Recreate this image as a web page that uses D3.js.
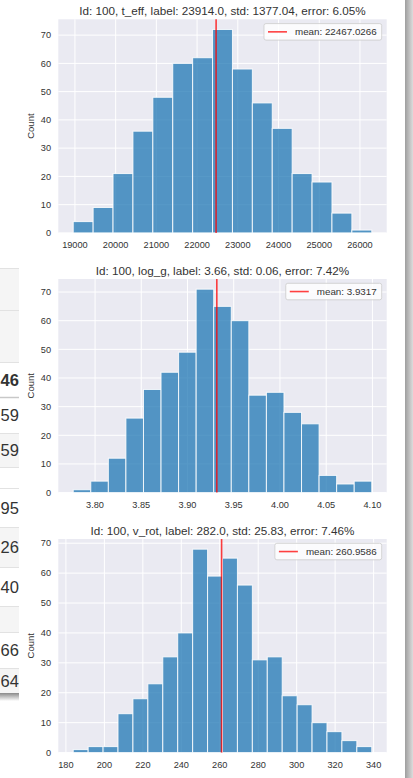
<!DOCTYPE html>
<html>
<head>
<meta charset="utf-8">
<script src="https://cdn.jsdelivr.net/npm/d3@7"></script>
<style>
body { margin: 0; background: #fff; }
text { font-family: "Liberation Sans", Arial, sans-serif; }
</style>
</head>
<body>
<script>
var W = 413, H = 778

// bar counts
var tEffCounts = [4, 9, 21, 36, 48, 60, 62, 72, 58, 46, 37, 21, 18, 7, 1]
var logGCounts = [1, 4, 12, 26, 36, 42, 49, 71, 65, 60, 34, 35, 28, 24, 6, 3, 4]
var vRotCounts = [1, 2, 2, 13, 18, 23, 32, 40, 68, 59, 65, 56, 31, 32, 19, 16, 10, 7, 4, 2]

// first bin start / last bin end
var tEffRange = [18958, 26290]
var logGRange = [3.7764, 4.0993]
var vRotRange = [183.8, 339.05]

var means = [22467.0266, 3.9317, 260.9586]
var meanLabels = ["mean: 22467.0266", "mean: 3.9317", "mean: 260.9586"]
var titles = [
  "Id: 100, t_eff, label: 23914.0, std: 1377.04, error: 6.05%",
  "Id: 100, log_g, label: 3.66, std: 0.06, error: 7.42%",
  "Id: 100, v_rot, label: 282.0, std: 25.83, error: 7.46%"
]

var tEffTicks = [19000, 20000, 21000, 22000, 23000, 24000, 25000, 26000]
var logGTicks = [3.80, 3.85, 3.90, 3.95, 4.00, 4.05, 4.10]
var vRotTicks = [180, 200, 220, 240, 260, 280, 300, 320, 340]
var countTicks = [0, 10, 20, 30, 40, 50, 60, 70]

// bits of the table sitting behind the plot window
var tableRows = [
  {y0: 268, y1: 310, fill: "#f5f5f5", text: ""},
  {y0: 310, y1: 362, fill: "#f5f5f5", text: ""},
  {y0: 362, y1: 397, fill: "#fff", text: "4605", bold: true},
  {y0: 397, y1: 433, fill: "#fff", text: "5959"},
  {y0: 433, y1: 467, fill: "#f5f5f5", text: "5959"},
  {y0: 467, y1: 488, fill: "#fff", text: ""},
  {y0: 488, y1: 527, fill: "#fff", text: "9571"},
  {y0: 527, y1: 567, fill: "#f5f5f5", text: "2600"},
  {y0: 567, y1: 606, fill: "#fff", text: "4000"},
  {y0: 606, y1: 632, fill: "#f5f5f5", text: ""},
  {y0: 632, y1: 668, fill: "#fff", text: "6600"},
  {y0: 668, y1: 693, fill: "#f5f5f5", text: "6400"}
]

var charts = [
  {counts: tEffCounts, range: tEffRange, ticks: tEffTicks, fmt: d3.format("d"), top: 19.3},
  {counts: logGCounts, range: logGRange, ticks: logGTicks, fmt: d3.format(".2f"), top: 279},
  {counts: vRotCounts, range: vRotRange, ticks: vRotTicks, fmt: d3.format("d"), top: 539}
]

var plotH = 213.6
var left = 58.3, right = 386.7

var svg = d3.select("body").append("svg")
    .attr("width", W)
    .attr("height", H)

var defs = svg.append("defs")
var grad = defs.append("linearGradient").attr("id", "shadowR")
grad.append("stop").attr("offset", "0%").attr("stop-color", "#9e9e9e")
grad.append("stop").attr("offset", "100%").attr("stop-color", "#dcdcdc")
var gradB = defs.append("linearGradient").attr("id", "shadowB")
    .attr("x1", 0).attr("y1", 0).attr("x2", 0).attr("y2", 1)
gradB.append("stop").attr("offset", "0%").attr("stop-color", "#8a8a8a")
gradB.append("stop").attr("offset", "100%").attr("stop-color", "#fff")

// background table
var tbl = svg.append("g")
tbl.selectAll("rect")
    .data(tableRows)
  .enter().append("rect")
    .attr("x", 0).attr("width", 30)
    .attr("y", function(d) { return d.y0 })
    .attr("height", function(d) { return d.y1 - d.y0 })
    .attr("fill", function(d) { return d.fill })
tbl.selectAll("line")
    .data(tableRows)
  .enter().append("line")
    .attr("x1", 0).attr("x2", 30)
    .attr("y1", function(d) { return d.y0 + 0.5 })
    .attr("y2", function(d) { return d.y0 + 0.5 })
    .attr("stroke", function(d, i) { return i == 3 ? "#c8c8c8" : "#e2e2e2" })
    .attr("stroke-width", function(d, i) { return i == 3 ? 1.5 : 1 })
tbl.selectAll("text")
    .data(tableRows)
  .enter().append("text")
    .attr("x", 0.5)
    .attr("y", function(d) { return (d.y0 + d.y1) / 2 + 6 })
    .attr("font-size", 16.5)
    .attr("font-weight", function(d) { return d.bold ? "bold" : "normal" })
    .attr("fill", "#333")
    .text(function(d) { return d.text })
tbl.append("rect")
    .attr("x", 0).attr("width", 30)
    .attr("y", 693).attr("height", 8)
    .attr("fill", "url(#shadowB)")

// the plot window
svg.append("rect")
    .attr("x", 19).attr("y", 0)
    .attr("width", 386).attr("height", H)
    .attr("fill", "#fff")
svg.append("rect")
    .attr("x", 405).attr("y", 0)
    .attr("width", 8).attr("height", H)
    .attr("fill", "url(#shadowR)")

charts.forEach(function(c, k) {
  var lo = c.range[0], hi = c.range[1]
  var pad = (hi - lo) * 0.05
  var bw = (hi - lo) / c.counts.length
  var top = c.top, bottom = top + plotH

  var x = d3.scaleLinear()
      .domain([lo - pad, hi + pad])
      .range([left, right])
  var y = d3.scaleLinear()
      .domain([0, d3.max(c.counts) * 1.05])
      .range([bottom, top])

  var g = svg.append("g")

  g.append("rect")
      .attr("x", left).attr("y", top)
      .attr("width", right - left).attr("height", plotH)
      .attr("fill", "#eaeaf2")

  // grid
  g.selectAll(".gx")
      .data(c.ticks)
    .enter().append("line")
      .attr("x1", function(d) { return x(d) }).attr("x2", function(d) { return x(d) })
      .attr("y1", top).attr("y2", bottom)
      .attr("stroke", "#fff").attr("stroke-width", 1)
  g.selectAll(".gy")
      .data(countTicks.filter(function(d) { return y(d) > top }))
    .enter().append("line")
      .attr("x1", left).attr("x2", right)
      .attr("y1", function(d) { return y(d) }).attr("y2", function(d) { return y(d) })
      .attr("stroke", "#fff").attr("stroke-width", 1)

  // bars
  g.selectAll(".bar")
      .data(c.counts)
    .enter().append("rect")
      .attr("x", function(d, i) { return x(lo + i * bw) })
      .attr("width", function(d, i) { return x(lo + (i + 1) * bw) - x(lo + i * bw) })
      .attr("y", function(d) { return y(d) })
      .attr("height", function(d) { return y(0) - y(d) })
      .attr("fill", "#1f77b4").attr("fill-opacity", 0.75)
      .attr("stroke", "#fff").attr("stroke-opacity", 0.85).attr("stroke-width", 1)

  // mean line
  g.append("line")
      .attr("x1", x(means[k])).attr("x2", x(means[k]))
      .attr("y1", top).attr("y2", bottom)
      .attr("stroke", "#ff0000").attr("stroke-opacity", 0.75).attr("stroke-width", 1.6)

  // tick labels
  g.selectAll(".xt")
      .data(c.ticks)
    .enter().append("text")
      .attr("x", function(d) { return x(d) })
      .attr("y", bottom + 15.5)
      .attr("text-anchor", "middle")
      .attr("font-size", 9.2)
      .attr("fill", "#333")
      .text(c.fmt)
  g.selectAll(".yt")
      .data(countTicks)
    .enter().append("text")
      .attr("x", 51)
      .attr("y", function(d) { return y(d) })
      .attr("dy", "0.35em")
      .attr("text-anchor", "end")
      .attr("font-size", 9.2)
      .attr("fill", "#333")
      .text(function(d) { return d })

  g.append("text")
      .attr("transform", "translate(34," + (top + plotH / 2) + ") rotate(-90)")
      .attr("text-anchor", "middle")
      .attr("font-size", 9.5)
      .attr("fill", "#333")
      .text("Count")

  g.append("text")
      .attr("x", (left + right) / 2)
      .attr("y", top - 4)
      .attr("text-anchor", "middle")
      .attr("font-size", 11.7)
      .attr("fill", "#333")
      .text(titles[k])

  // legend
  var lg = g.append("g")
  var box = lg.append("rect")
  var lt = lg.append("text")
      .attr("font-size", 9.8)
      .attr("fill", "#333")
      .text(meanLabels[k])
  var tw = lt.node().getComputedTextLength()
  var bx = right - 5 - tw - 36, by = top + 4.3, bh = 16.5
  box.attr("x", bx).attr("y", by)
      .attr("width", right - 5 - bx).attr("height", bh)
      .attr("rx", 2)
      .attr("fill", "#fff").attr("fill-opacity", 0.8)
      .attr("stroke", "#cccccc").attr("stroke-width", 0.8)
  lt.attr("x", bx + 31).attr("y", by + bh / 2).attr("dy", "0.35em")
  lg.append("line")
      .attr("x1", bx + 4).attr("x2", bx + 23)
      .attr("y1", by + bh / 2).attr("y2", by + bh / 2)
      .attr("stroke", "#ff0000").attr("stroke-opacity", 0.75).attr("stroke-width", 1.6)
})
</script>
</body>
</html>
